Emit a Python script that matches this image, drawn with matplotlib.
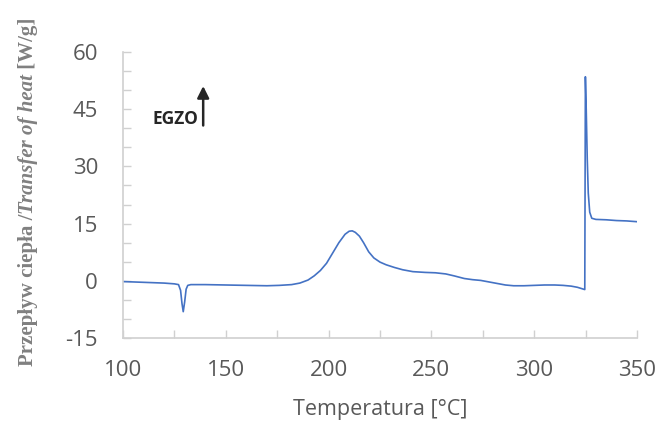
import matplotlib
matplotlib.use("Agg")
import matplotlib.pyplot as plt

plt.rcParams["axes.unicode_minus"] = False

temperature = [100, 110, 120, 125, 127, 128, 128.7, 129.3, 130, 130.7, 131.5, 133, 140, 150,
               160, 170, 176, 182, 186, 190, 193, 196, 199, 202, 205, 208, 210, 211.5, 213,
               215, 217, 219.5, 222, 225, 228, 232, 236, 241, 247, 252, 257, 261, 266, 270,
               274, 278, 282, 286, 290, 295, 300, 305, 310, 314, 318, 321, 324.6, 324.9,
               325.3, 325.8, 326.3, 327, 328, 330, 335, 340, 345, 350]
heat_flow = [-0.2, -0.4, -0.6, -0.8, -1.0, -2.5, -6.0, -8.1, -5.5, -2.2, -1.2, -1.0, -1.0, -1.1,
             -1.2, -1.3, -1.2, -1.0, -0.6, 0.2, 1.3, 2.7, 4.6, 7.3, 10.0, 12.2, 13.0, 13.1, 12.7,
             11.7, 10.0, 7.6, 6.0, 4.9, 4.2, 3.5, 2.9, 2.4, 2.2, 2.1, 1.8, 1.3, 0.6, 0.3,
             0.1, -0.3, -0.7, -1.1, -1.3, -1.3, -1.2, -1.1, -1.1, -1.2, -1.4, -1.7, -2.3, 53.5,
             45, 32, 23, 18, 16.4, 16.1, 16.0, 15.8, 15.7, 15.5]

x_ticks = [100, 150, 200, 250, 300, 350]
y_ticks = [-15, 0, 15, 30, 45, 60]

fig = plt.figure(figsize=(6.64, 4.22), dpi=100)
ax = fig.add_axes([123/664, 1-338/422, (637-123)/664, (338-52)/422])

ax.plot(temperature, heat_flow, color="#4472c4", lw=1.2)

ax.set_xlim(100, 350)
ax.set_ylim(-15, 60)
ax.set_xticks(x_ticks)
ax.set_xticks(range(100, 351, 25), minor=True)
ax.set_yticks(y_ticks)
ax.set_yticks(range(-15, 61, 5), minor=True)

grey = "#d0d0d0"
for s in ["top", "right"]:
    ax.spines[s].set_visible(False)
for s in ["left", "bottom"]:
    ax.spines[s].set_color(grey)
    ax.spines[s].set_linewidth(1.2)

ax.tick_params(which="both", direction="in", color=grey, width=1.0)
ax.tick_params(which="major", length=6)
ax.tick_params(which="minor", length=6)
ax.tick_params(axis="y", pad=18, labelsize=16, labelcolor="#595959")
ax.tick_params(axis="x", pad=16, labelsize=16, labelcolor="#595959")
for lab in ax.get_xticklabels() + ax.get_yticklabels():
    lab.set_fontfamily("Open Sans")

ax.set_xlabel("Temperatura [°C]", fontsize=15.5, color="#595959", family="Open Sans", labelpad=13)

# EGZO annotation
ax.text(136.5, 42.5, "EGZO", fontsize=12.5, fontweight="bold", color="#262626",
        family="Open Sans", ha="right", va="center")
ax.annotate("", xy=(139, 51.8), xytext=(139, 40.0),
            arrowprops=dict(arrowstyle="-|>,head_width=0.35,head_length=0.7",
                            color="#262626", lw=1.8))

# Y label with mixed styles
parts = [("Przepływ ciepła /", "normal"), ("Transfer of heat", "italic"), (" [W/g]", "normal")]
fig.canvas.draw()
renderer = fig.canvas.get_renderer()
texts = []
for s, style in parts:
    t = fig.text(0, 0, s, rotation=90, fontsize=15, fontweight="bold", style=style,
                 family="Liberation Serif", color="#808080", ha="center", va="bottom")
    texts.append(t)
heights = [t.get_window_extent(renderer).height for t in texts]
total = sum(heights)
yc = 1 - 192/422
y0 = yc * 422 - total / 2
xc = 28 / 664
for t, h in zip(texts, heights):
    t.set_position((xc, y0 / 422))
    y0 += h

fig.savefig("out.png", dpi=100)
